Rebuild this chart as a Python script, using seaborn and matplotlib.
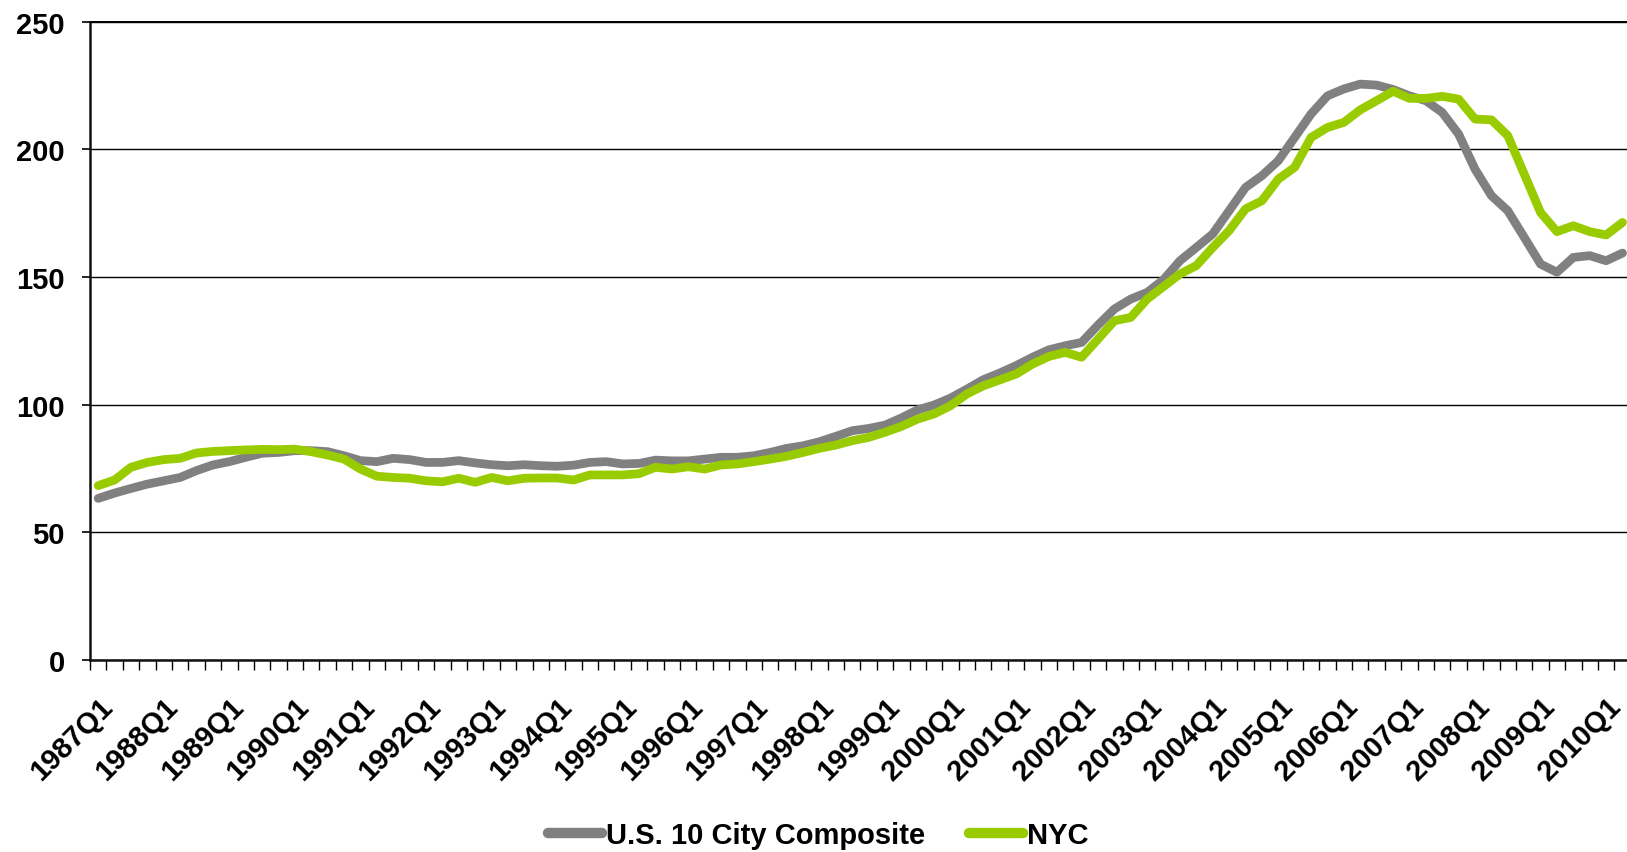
import numpy as np
import pandas as pd
import matplotlib
matplotlib.use("Agg")
import matplotlib.pyplot as plt
from matplotlib.lines import Line2D
import seaborn as sns

# Quarterly home price index levels, 1987Q1 - 2010Q2
quarters = [f"{y}Q{q}" for y in range(1987, 2011) for q in range(1, 5)][:94]

composite = [
    63.3, 65.4, 67.2, 68.9, 70.2, 71.5, 74.2, 76.4, 77.7, 79.4,
    81.0, 81.3, 82.0, 82.0, 81.6, 80.0, 78.1, 77.7, 79.0, 78.5,
    77.4, 77.4, 78.1, 77.2, 76.5, 76.1, 76.5, 76.1, 75.9, 76.3,
    77.4, 77.7, 76.8, 77.0, 78.3, 78.0, 78.0, 78.7, 79.4, 79.4,
    80.0, 81.3, 82.9, 83.9, 85.5, 87.6, 89.8, 90.7, 92.0, 94.8,
    98.0, 99.9, 102.6, 106.1, 109.8, 112.4, 115.3, 118.6, 121.5, 123.1,
    124.4, 131.2, 137.5, 141.4, 144.0, 149.0, 156.4, 161.6, 166.9, 176.0,
    185.1, 189.7, 195.6, 204.7, 213.9, 221.0, 223.7, 225.6, 225.2, 223.5,
    221.0, 219.1, 214.5, 206.0, 192.3, 181.9, 176.0, 165.6, 155.1, 151.9,
    157.7, 158.4, 156.4, 159.4,
]

nyc = [
    68.3, 70.5, 75.5, 77.4, 78.5, 79.0, 81.1, 81.7, 82.0, 82.3,
    82.5, 82.4, 82.6, 81.6, 80.3, 78.7, 74.8, 72.0, 71.5, 71.2,
    70.2, 69.8, 71.2, 69.6, 71.5, 70.2, 71.2, 71.3, 71.3, 70.5,
    72.5, 72.5, 72.5, 73.0, 75.5, 74.8, 75.7, 74.8, 76.4, 76.8,
    77.7, 78.7, 79.8, 81.3, 82.9, 84.2, 85.9, 87.2, 89.2, 91.5,
    94.4, 96.4, 99.6, 104.2, 107.4, 109.7, 112.0, 115.9, 118.9, 120.5,
    118.6, 125.7, 132.9, 134.2, 141.4, 146.3, 151.2, 154.5, 161.6, 168.2,
    176.7, 179.9, 188.4, 193.0, 204.7, 208.6, 210.6, 215.5, 219.1, 222.8,
    220.0, 220.0, 220.8, 219.7, 211.9, 211.6, 205.4, 190.4, 175.3, 167.8,
    170.1, 167.8, 166.5, 171.4,
]

series_names = ["U.S. 10 City Composite", "NYC"]
series_colors = ["#808080", "#99CC00"]
y_ticks = [0, 50, 100, 150, 200, 250]

sns.set_style("white")
plt.rcParams["font.family"] = ["Liberation Sans", "DejaVu Sans"]
plt.rcParams["font.weight"] = "bold"
plt.rcParams["text.color"] = "black"
plt.rcParams["xtick.color"] = "black"
plt.rcParams["ytick.color"] = "black"

FS = 21

n = len(quarters)
idx = np.arange(n)
df = pd.DataFrame({
    "pos": np.concatenate([idx, idx]),
    "value": composite + nyc,
    "series": [series_names[0]] * n + [series_names[1]] * n,
})

fig = plt.figure(figsize=(16.27, 8.53), dpi=100)
ax = fig.add_axes([90 / 1627, 192 / 853, 1540.7 / 1627, 638.2 / 853])

sns.lineplot(data=df, x="pos", y="value", hue="series",
             hue_order=series_names, palette=series_colors,
             linewidth=6.3, ax=ax, legend=False, sort=False)
for line in ax.lines:
    line.set_solid_capstyle("round")
    line.set_solid_joinstyle("round")

ax.set_xlim(-0.5, n - 0.5)
ax.set_ylim(0, 250)
ax.set_xlabel("")
ax.set_ylabel("")

# horizontal gridlines
ax.set_yticks(y_ticks)
ax.set_yticklabels([str(v) for v in y_ticks], fontsize=FS, fontweight="bold",
                   color="black")
ax.yaxis.grid(True, color="black", linewidth=1.0)
ax.xaxis.grid(False)
ax.set_axisbelow(True)
ax.tick_params(axis="y", which="major", direction="out", length=6,
               width=1.2, color="black", pad=12, left=True)

# category axis: labels at each Q1, tick marks between quarters
label_pos = list(range(0, n, 4))
ax.set_xticks(label_pos)
ax.set_xticklabels([quarters[i] for i in label_pos], fontsize=FS,
                   fontweight="bold", color="black")
ax.set_xticks(np.arange(-0.5, n, 1.0), minor=True)
ax.tick_params(axis="x", which="major", length=0, pad=23, bottom=True)
ax.tick_params(axis="x", which="minor", direction="out", length=7,
               width=1.0, color="black", bottom=True)
for lbl in ax.get_xticklabels():
    lbl.set_rotation(45)
    lbl.set_ha("right")
    lbl.set_va("top")
    lbl.set_rotation_mode("anchor")

for side in ["left", "bottom"]:
    ax.spines[side].set_visible(True)
    ax.spines[side].set_color("#111111")
    ax.spines[side].set_linewidth(1.8)
ax.spines["top"].set_visible(True)
ax.spines["top"].set_color("black")
ax.spines["top"].set_linewidth(1.4)
ax.spines["right"].set_visible(False)

handles = [Line2D([0], [0], color=c, linewidth=7.5, solid_capstyle="round")
           for c in series_colors]
fig.legend(handles, series_names, loc="center", bbox_to_anchor=(0.503, 0.02),
           ncol=2, frameon=False, handlelength=1.85, handletextpad=0.15,
           columnspacing=1.5, prop={"size": FS, "weight": "bold"})

fig.savefig("out.png", dpi=100)
